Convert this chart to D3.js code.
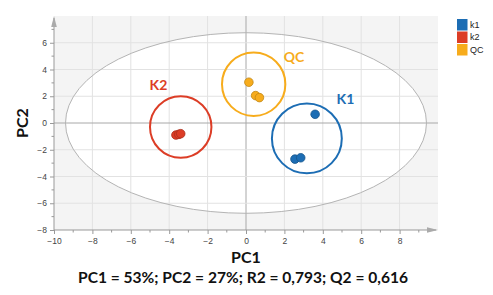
<!DOCTYPE html>
<html><head><meta charset="utf-8">
<script src="https://cdn.jsdelivr.net/npm/d3@7"></script>
<style>body{margin:0;background:#fff}svg{display:block}</style>
</head><body>
<script>
// ---- data ----
const groups = ["k1", "k2", "QC"];
const groupColors = ["#1c6db4", "#dc3d26", "#f7ac1c"];
const k1X = [3.6, 2.55, 2.85];
const k1Y = [0.65, -2.7, -2.6];
const k2X = [-3.65, -3.5, -3.4];
const k2Y = [-0.9, -0.85, -0.8];
const qcX = [0.15, 0.5, 0.7];
const qcY = [3.05, 2.05, 1.9];
const clusterLabels = ["K1", "K2", "QC"];
const clusterCX = [3.17, -3.4, 0.4];
const clusterCY = [-1.15, -0.3, 2.9];
const clusterR = [1.82, 1.6, 1.65];      // radius in PC1 units
const labelX = [5.18, -4.56, 2.5];
const labelY = [1.43, 2.47, 4.57];
const xTicks = [-10, -8, -6, -4, -2, 0, 2, 4, 6, 8];
const yTicks = [-8, -6, -4, -2, 0, 2, 4, 6];
const ellipseRX = 9.4, ellipseRY = 6.75;
const xTitle = "PC1", yTitle = "PC2";
const footer = "PC1 = 53%; PC2 = 27%; R2 = 0,793; Q2 = 0,616";

const W = 493, H = 295;
const svg = d3.select("body").append("svg").attr("width", W).attr("height", H);

const x = d3.scaleLinear().domain([-10, 10]).range([54, 438]);
const y = d3.scaleLinear().domain([-8, 8]).range([230, 16]);

// background
svg.append("rect").attr("x", x(-10)).attr("y", y(8)).attr("width", x(10) - x(-10)).attr("height", y(-8) - y(8)).attr("fill", "#f4f4f4");
svg.append("ellipse").attr("cx", x(0)).attr("cy", y(0))
  .attr("rx", x(ellipseRX) - x(0)).attr("ry", y(0) - y(ellipseRY)).attr("fill", "#fff");

// grid
const grid = svg.append("g");
grid.selectAll(".vx").data(d3.range(-8, 10, 2)).join("line")
  .attr("x1", d => x(d)).attr("x2", d => x(d)).attr("y1", y(8)).attr("y2", y(-8))
  .attr("stroke", d => d === 0 ? "#a8a8a8" : "#e2e2e2").attr("stroke-width", 1);
grid.selectAll(".hy").data(d3.range(-6, 8, 2)).join("line")
  .attr("y1", d => y(d)).attr("y2", d => y(d)).attr("x1", x(-10)).attr("x2", x(10))
  .attr("stroke", d => d === 0 ? "#a8a8a8" : "#e2e2e2").attr("stroke-width", 1);

// ellipse outline
svg.append("ellipse").attr("cx", x(0)).attr("cy", y(0))
  .attr("rx", x(ellipseRX) - x(0)).attr("ry", y(0) - y(ellipseRY))
  .attr("fill", "none").attr("stroke", "#b4b4b4").attr("stroke-width", 1);

// axes
const axisColor = "#999";
const xAxis = d3.axisBottom(x).tickValues(xTicks).tickSize(4).tickPadding(4);
const gx = svg.append("g").attr("transform", `translate(0,${y(-8)})`).call(xAxis);
gx.select(".domain").remove();
gx.append("line").attr("x1", x(-10)).attr("x2", x(10) - 2).attr("stroke", axisColor);
gx.append("path").attr("d", `M${x(10)},0 L${x(10) - 11},-2.8 L${x(10) - 11},2.8 Z`).attr("fill", "#aaa");
gx.selectAll(".minor").data(d3.range(-9, 10, 2)).join("line").attr("class", "minor")
  .attr("x1", d => x(d)).attr("x2", d => x(d)).attr("y1", 0).attr("y2", 2.5).attr("stroke", axisColor);

const yAxis = d3.axisLeft(y).tickValues(yTicks).tickSize(4).tickPadding(3);
const gy = svg.append("g").attr("transform", `translate(${x(-10)},0)`).call(yAxis);
gy.select(".domain").remove();
gy.append("line").attr("y1", y(-8)).attr("y2", y(8) + 2).attr("stroke", axisColor);
gy.append("path").attr("d", `M0,${y(8)} L-2.8,${y(8) + 11} L2.8,${y(8) + 11} Z`).attr("fill", "#aaa");
gy.selectAll(".minor").data(d3.range(-7, 8, 2)).join("line").attr("class", "minor")
  .attr("y1", d => y(d)).attr("y2", d => y(d)).attr("x1", 0).attr("x2", -2.5).attr("stroke", axisColor);

[gx, gy].forEach(g => {
  g.selectAll(".tick line").attr("stroke", axisColor);
  g.selectAll(".tick text").attr("fill", "#444").attr("font-family", "Liberation Sans, Arial, sans-serif").attr("font-size", 8.5);
});

// cluster circles and labels
const rpx = r => x(r) - x(0);
svg.selectAll(".cl").data(clusterLabels).join("circle")
  .attr("cx", (d, i) => x(clusterCX[i])).attr("cy", (d, i) => y(clusterCY[i]))
  .attr("r", (d, i) => rpx(clusterR[i])).attr("fill", "none")
  .attr("stroke", (d, i) => groupColors[i]).attr("stroke-width", 2);
svg.selectAll(".lbl").data(clusterLabels).join("text")
  .attr("x", (d, i) => x(labelX[i])).attr("y", (d, i) => y(labelY[i]))
  .attr("text-anchor", "middle").attr("font-family", "Lato, sans-serif").attr("font-weight", "bold")
  .attr("font-size", 14).attr("fill", (d, i) => groupColors[i]).text(d => d);

// points
const series = [[k1X, k1Y], [k2X, k2Y], [qcX, qcY]];
series.forEach(([xs, ys], gi) => {
  const pts = xs.map((v, j) => [v, ys[j]]);
  svg.append("g").selectAll("circle").data(pts).join("circle")
    .attr("cx", d => x(d[0])).attr("cy", d => y(d[1])).attr("r", 4.3)
    .attr("fill", groupColors[gi]).attr("stroke", d3.color(groupColors[gi]).darker(0.7)).attr("stroke-width", 0.8);
});

// legend
const leg = svg.append("g").attr("transform", "translate(457,19)");
groups.forEach((g, i) => {
  leg.append("rect").attr("x", 0).attr("y", i * 12.5).attr("width", 10.5).attr("height", 11.5).attr("fill", groupColors[i]);
  leg.append("text").attr("x", 13).attr("y", i * 12.5 + 8.5).attr("font-family", "Liberation Sans, Arial, sans-serif")
    .attr("font-size", 9).attr("fill", "#222").text(g);
});

// titles
svg.append("text").attr("x", x(0)).attr("y", 263).attr("text-anchor", "middle")
  .attr("font-family", "Lato, sans-serif").attr("font-weight", "bold").attr("font-size", 16).attr("fill", "#111").text(xTitle);
svg.append("text").attr("transform", `translate(28,${y(0)}) rotate(-90)`).attr("text-anchor", "middle")
  .attr("font-family", "Lato, sans-serif").attr("font-weight", "bold").attr("font-size", 16).attr("fill", "#111").text(yTitle);
svg.append("text").attr("x", 243).attr("y", 283).attr("text-anchor", "middle")
  .attr("font-family", "Lato, sans-serif").attr("font-weight", "bold").attr("font-size", 16).attr("fill", "#111")
  .attr("textLength", 330).attr("lengthAdjust", "spacingAndGlyphs").text(footer);
</script>
</body></html>
